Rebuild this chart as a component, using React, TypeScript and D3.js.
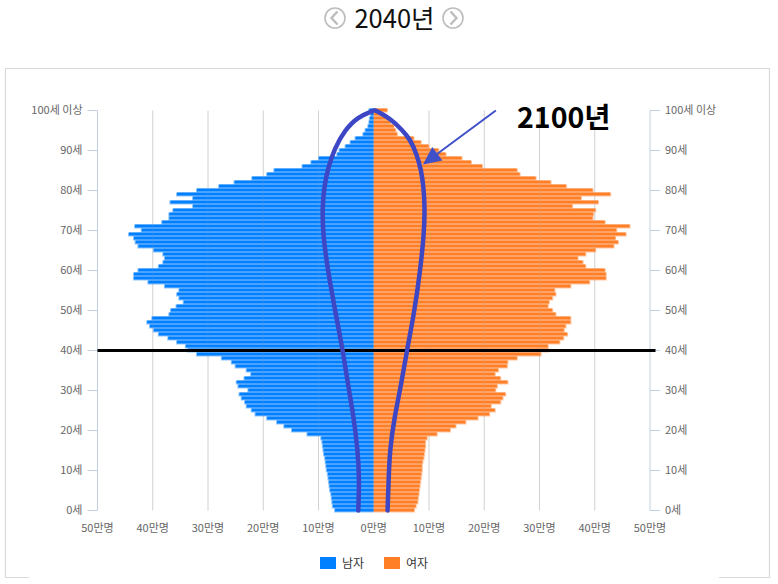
import React, { useEffect, useRef } from 'react';
import * as d3 from 'd3';

// values in 만명, index = age (0..100)
const maleValues = [
  7.0, 7.4, 7.5, 7.6, 7.7, 7.9, 8.0, 8.1, 8.2, 8.3,
  8.5, 8.6, 8.7, 8.8, 9.0, 9.1, 9.2, 9.3, 9.5, 12.0,
  14.8, 16.2, 17.5, 19.3, 21.4, 22.1, 23.0, 23.3, 23.9, 24.3,
  22.7, 24.5, 24.8, 23.4, 22.2, 23.0, 25.0, 25.7, 27.5, 32.0,
  33.6, 34.0, 35.6, 37.2, 38.9, 39.8, 40.5, 41.0, 40.1, 37.0,
  36.7, 35.7, 34.4, 35.2, 35.6, 35.2, 37.8, 40.8, 43.4, 43.4,
  42.6, 38.9, 38.1, 37.8, 38.1, 39.8, 42.6, 43.1, 43.4, 44.3,
  42.0, 43.2, 38.3, 37.0, 37.0, 36.3, 32.7, 36.8, 32.7, 35.6,
  32.0, 28.0, 25.2, 22.0, 19.3, 18.0, 12.9, 11.3, 9.9, 6.6,
  6.2, 5.1, 4.2, 3.3, 1.9, 1.5, 1.0, 0.8, 0.7, 0.5, 0.8,
];
const femaleValues = [
  7.3, 7.6, 7.9, 8.0, 8.1, 8.2, 8.3, 8.4, 8.5, 8.6,
  8.7, 8.7, 8.8, 9.0, 9.1, 9.2, 9.3, 9.3, 9.6, 11.4,
  13.8, 14.8, 16.6, 18.8, 20.9, 21.9, 21.2, 22.9, 23.3, 23.8,
  22.0, 22.3, 24.2, 22.9, 21.9, 22.5, 24.1, 24.2, 25.9, 30.2,
  31.6, 31.5, 33.6, 34.3, 35.0, 34.4, 34.7, 35.6, 35.6, 32.9,
  32.3, 31.5, 31.7, 32.3, 32.9, 32.7, 35.6, 39.0, 42.0, 42.0,
  41.8, 38.3, 37.8, 36.9, 38.3, 40.1, 43.4, 44.2, 43.7, 45.6,
  43.9, 46.3, 41.8, 39.6, 39.7, 40.1, 35.9, 40.6, 37.5, 42.8,
  39.6, 34.8, 32.0, 29.3, 26.4, 25.9, 19.6, 17.6, 15.9, 13.0,
  11.7, 9.9, 8.5, 7.2, 4.2, 3.9, 3.6, 3.0, 2.4, 1.7, 2.4,
];

// hand drawn 2100 outline, [value, age]; control points of a basis spline
const outlineLeft: [number, number][] = [
  [-2.8, 0], [-2.6, 8], [-2.9, 15], [-3.6, 23], [-4.6, 31], [-5.6, 40], [-7, 50],
  [-8.3, 60], [-9.2, 69], [-9.3, 76], [-8.95, 81], [-8.3, 85.5], [-7.1, 90.5], [-5.3, 95], [-2.9, 98.4], [0, 100],
];
const outlineRight: [number, number][] = [
  [2.5, 0], [2.7, 8], [2.9, 15], [3.7, 23], [4.9, 31], [6, 40], [7.4, 50],
  [8.4, 60], [9.1, 69], [9.25, 76], [9.0, 81], [8.6, 85], [7.8, 89], [6.6, 92.8], [5.1, 95.2], [3, 98], [0.3, 100],
];
const markerLine: [number, number][] = [[-50, 40], [51, 40]];
const arrowFrom: [number, number] = [22.1, 100];
const arrowTo: [number, number] = [8.9, 86.5];

const ageTicks = [0, 10, 20, 30, 40, 50, 60, 70, 80, 90, 100];
const valueTicks = [-50, -40, -30, -20, -10, 0, 10, 20, 30, 40, 50];
const ageLabel = (a: number) => (a === 100 ? '100세 이상' : `${a}세`);
const valueLabel = (v: number) => `${Math.abs(v)}만명`;

const FONT = '"Noto Sans CJK KR", "Noto Sans", sans-serif';
const BLUE = '#007fff';
const ORANGE = '#ff7f27';
const CURVE = '#3d46c4';

export default function App() {
  const svgRef = useRef<SVGSVGElement>(null);

  useEffect(() => {
    if (!svgRef.current) return;
    const svg = d3.select(svgRef.current);
    svg.selectAll('*').remove();

    const x = d3.scaleLinear().domain([-50, 50]).range([97.5, 650]);
    const ages = d3.range(maleValues.length);
    const band = d3.scaleBand<number>().domain(ages).range([512.5, 108.5]);
    const y = (a: number) => (band(Math.round(a)) as number) + band.bandwidth() / 2 + (a - Math.round(a)) * -4;

    // frame, bottom edge is cut off behind the legend box
    const frame = svg.append('g').attr('stroke', '#d9d9d9').attr('stroke-width', 1.2).attr('fill', 'none');
    frame.append('path').attr('d', 'M29,577.5H5.5V68.5H769.5V577.5H719');

    // header
    const arrows = [{ cx: 335, dir: -1 }, { cx: 453, dir: 1 }];
    arrows.forEach(({ cx, dir }) => {
      const g = svg.append('g').attr('fill', 'none').attr('stroke', '#bdbdbd');
      g.append('circle').attr('cx', cx).attr('cy', 18).attr('r', 10).attr('stroke-width', 1.6);
      g.append('path')
        .attr('d', `M${cx - dir * 2.5},11.5L${cx + dir * 3.5},18L${cx - dir * 2.5},24.5`)
        .attr('stroke-width', 2.4);
    });
    svg.append('text').attr('x', 394.5).attr('y', 27.5).attr('text-anchor', 'middle')
      .attr('font-family', FONT).attr('font-size', 25.5).attr('fill', '#111').text('2040년');

    // grid
    const gridTicks = valueTicks.filter(v => Math.abs(v) < 50 && v !== 0);
    svg.append('g').selectAll('line')
      .data(gridTicks)
      .enter().append('line')
      .attr('x1', d => x(d)).attr('x2', d => x(d))
      .attr('y1', y(100)).attr('y2', y(0))
      .attr('stroke', '#d2d2d2').attr('stroke-width', 1);

    // left / right age axis
    [{ v: -50, dir: -1 }, { v: 50, dir: 1 }].forEach(({ v, dir }) => {
      const g = svg.append('g').attr('stroke', '#c0d0e0').attr('stroke-width', 1);
      g.append('line').attr('x1', x(v)).attr('x2', x(v)).attr('y1', y(100)).attr('y2', y(0));
      g.selectAll('line.tick').data(ageTicks).enter().append('line').attr('class', 'tick')
        .attr('x1', x(v)).attr('x2', x(v) + dir * 10)
        .attr('y1', d => y(d)).attr('y2', d => y(d));
      svg.append('g').selectAll('text').data(ageTicks).enter().append('text')
        .attr('x', x(v) + dir * 15)
        .attr('y', d => y(d) + 3.5)
        .attr('text-anchor', dir < 0 ? 'end' : 'start')
        .attr('font-family', FONT).attr('font-size', 11).attr('fill', '#666')
        .text(d => ageLabel(d));
    });

    // bars: pale halo row underneath, solid row on top
    const solidHeight = band.bandwidth() - 1;
    const halo = 1;
    const drawBars = (values: number[], sign: number, color: string) => {
      const g = svg.append('g');
      const left = (d: number) => Math.min(x(0), x(sign * d));
      const width = (d: number) => Math.abs(x(sign * d) - x(0));
      g.selectAll('rect.halo').data(values).enter().append('rect').attr('class', 'halo')
        .attr('x', d => left(d) - (sign < 0 ? halo : 0)).attr('width', d => width(d) + halo)
        .attr('y', (_, i) => band(i) as number).attr('height', band.bandwidth())
        .attr('fill', color).attr('fill-opacity', 0.45);
      g.selectAll('rect.solid').data(values).enter().append('rect').attr('class', 'solid')
        .attr('x', d => left(d)).attr('width', d => width(d))
        .attr('y', (_, i) => band(i) as number).attr('height', solidHeight)
        .attr('fill', color);
    };
    drawBars(maleValues, -1, BLUE);
    drawBars(femaleValues, 1, ORANGE);

    // grid shows faintly through the bars
    svg.append('g').selectAll('line')
      .data(gridTicks)
      .enter().append('line')
      .attr('x1', d => x(d)).attr('x2', d => x(d))
      .attr('y1', y(100)).attr('y2', y(0))
      .attr('stroke', '#d2d2d2').attr('stroke-opacity', 0.12);

    // bottom labels
    svg.append('g').selectAll('text').data(valueTicks).enter().append('text')
      .attr('x', d => x(d)).attr('y', 532)
      .attr('text-anchor', 'middle')
      .attr('font-family', FONT).attr('font-size', 11).attr('fill', '#666')
      .text(d => valueLabel(d));

    // 40세 line
    const line = d3.line<[number, number]>().x(d => x(d[0])).y(d => y(d[1]));
    svg.append('path').attr('d', line(markerLine)).attr('stroke', '#000').attr('stroke-width', 3).attr('fill', 'none');

    // 2100 outline
    const smooth = d3.line<[number, number]>().x(d => x(d[0])).y(d => y(d[1])).curve(d3.curveBasis);
    [outlineLeft, outlineRight].forEach(pts => {
      svg.append('path').attr('d', smooth(pts))
        .attr('fill', 'none').attr('stroke', CURVE).attr('stroke-width', 4.5).attr('stroke-linecap', 'round');
    });

    // arrow
    const tip = [x(arrowTo[0]), y(arrowTo[1])];
    const from = [x(arrowFrom[0]), y(arrowFrom[1])];
    const ang = Math.atan2(from[1] - tip[1], from[0] - tip[0]);
    const along = (d: number, off: number) => [
      tip[0] + Math.cos(ang) * d - Math.sin(ang) * off,
      tip[1] + Math.sin(ang) * d + Math.cos(ang) * off,
    ];
    svg.append('line').attr('x1', from[0]).attr('y1', from[1]).attr('x2', along(10, 0)[0]).attr('y2', along(10, 0)[1])
      .attr('stroke', '#3f50c8').attr('stroke-width', 2);
    svg.append('polygon')
      .attr('points', [tip, along(18, 8.5), along(18, -8.5)].map(p => p.join(',')).join(' '))
      .attr('fill', '#3f50c8');

    svg.append('text').attr('x', 517).attr('y', 128)
      .attr('font-family', FONT).attr('font-size', 28.5).attr('font-weight', 700).attr('fill', '#000').text('2100년');

    // legend
    const legend = [{ label: '남자', color: BLUE, lx: 320 }, { label: '여자', color: ORANGE, lx: 384 }];
    legend.forEach(({ label, color, lx }) => {
      svg.append('rect').attr('x', lx).attr('y', 557).attr('width', 16).attr('height', 12).attr('fill', color);
      svg.append('text').attr('x', lx + 22).attr('y', 567.5)
        .attr('font-family', FONT).attr('font-size', 12).attr('fill', '#333').text(label);
    });
  }, []);

  return (
    <svg ref={svgRef} width={778} height={584}
      style={{ position: 'absolute', left: 0, top: 0, background: '#fff' }} />
  );
}
